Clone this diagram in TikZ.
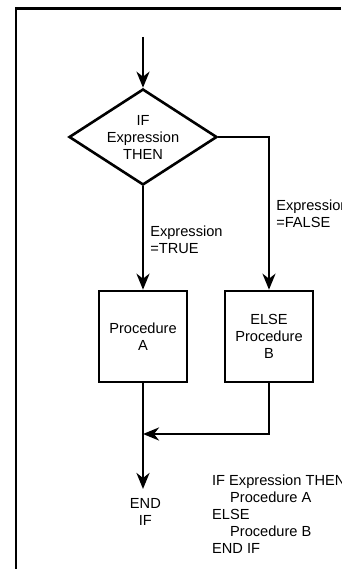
\documentclass[tikz,border=0pt]{standalone}
\usepackage{fontspec}
\setmainfont{Liberation Sans}
\usetikzlibrary{arrows.meta,shapes.geometric}
\tikzset{
	txt/.style={font=\fontsize{20.8}{24.2}\selectfont, align=center},
	flow/.style={line width=0.13cm, -{Stealth[length=0.8cm, width=0.65cm, inset=0.25cm]}},
	decision/.style={txt, draw, line width=0.13cm, diamond, aspect=1.54, inner sep=0pt, minimum width=7.4cm, minimum height=4.8cm},
	procbox/.style={txt, draw, line width=0.13cm, inner sep=0pt, minimum width=4.4cm, minimum height=4.55cm},
	cond/.style={txt, align=left, right, inner xsep=0.3cm, inner ysep=0pt}
}

\begin{document}
\begin{tikzpicture}
			%%%%% START %%%%%
			\useasboundingbox (0, 0) rectangle (17.05, 28.45);
			
			\draw[line width=0.13cm] (17.05, 28.025) -- (0.8, 28.025) -- (0.8, 0);
			
			\coordinate (start) at (7.15, 26.6);
			\node[decision] (test) at (7.15, 21.6) {IF\\Expression\\THEN};
			
			\node[procbox] (procA) at (7.15, 11.625) {Procedure\\A};
			\node[procbox] (procB) at (13.45, 11.625) {ELSE\\Procedure\\B};
			
			\coordinate (join) at (7.15, 6.75);
			\node[txt, anchor=north, inner xsep=0pt, inner ysep=0.45cm] (endtxt) at (7.27, 4.0) {END\\IF};
			
			\node[txt, align=left, anchor=north west, inner sep=0pt] (code) at (10.6, 4.7) {IF Expression THEN\\\hspace*{0.9cm}Procedure A\\ELSE\\\hspace*{0.9cm}Procedure B\\END IF};
			
			\draw[flow] (start) -- (test.north);
			\draw[flow] (test.south) -- node[cond, pos=0.52] {Expression\\=TRUE} (procA.north);
			\draw[flow] (test.east) -| node[cond, pos=0.753] {Expression\\=FALSE} (procB.north);
			\draw[flow] (procB.south) |- (join);
			\draw[flow] (procA.south) -- (procA.south |- endtxt.north);
			
			%%%%% END %%%%%
		\end{tikzpicture}
\end{document}
